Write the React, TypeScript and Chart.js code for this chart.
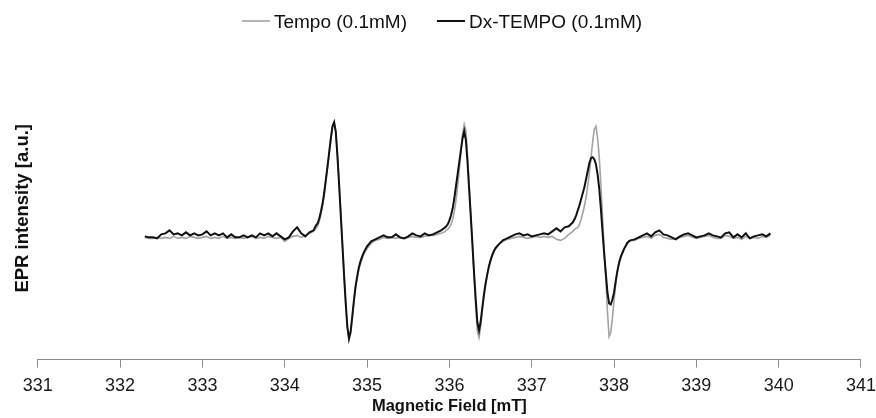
import { useEffect, useRef } from 'react';
import { Chart, registerables } from 'chart.js';

Chart.register(...registerables);

// Magnetic field sampling positions [mT]
const fieldMT = [
  332.30, 332.35, 332.40, 332.45, 332.50, 332.55, 332.60, 332.65, 332.70, 332.75,
  332.80, 332.85, 332.90, 332.95, 333.00, 333.05, 333.10, 333.15, 333.20, 333.25,
  333.30, 333.35, 333.40, 333.45, 333.50, 333.55, 333.60, 333.65, 333.70, 333.75,
  333.80, 333.85, 333.90, 333.95, 334.00, 334.05, 334.10, 334.15, 334.20, 334.25,
  334.30, 334.35,
  334.38, 334.40, 334.42, 334.44, 334.46, 334.48, 334.50, 334.52, 334.54, 334.56,
  334.58, 334.60, 334.62, 334.64, 334.66, 334.68, 334.70, 334.72, 334.74, 334.76,
  334.78, 334.80, 334.82, 334.84, 334.86, 334.88, 334.90, 334.92, 334.94, 334.96,
  335.00, 335.05, 335.10, 335.15, 335.20, 335.25, 335.30, 335.35, 335.40, 335.45,
  335.50, 335.55, 335.60, 335.65, 335.70, 335.75, 335.80, 335.85, 335.90, 335.95,
  335.96, 335.98, 336.00, 336.02, 336.04, 336.06, 336.08, 336.10, 336.12, 336.14,
  336.16, 336.18, 336.20, 336.22, 336.24, 336.26, 336.28, 336.30, 336.32, 336.34,
  336.36, 336.38, 336.40, 336.42, 336.44, 336.46, 336.48, 336.50, 336.52, 336.54,
  336.56,
  336.60, 336.65, 336.70, 336.75, 336.80, 336.85, 336.90, 336.95, 337.00, 337.05,
  337.10, 337.15, 337.20, 337.25, 337.30, 337.35, 337.40, 337.45, 337.50,
  337.52, 337.54, 337.56, 337.58, 337.60, 337.62, 337.64, 337.66, 337.68, 337.70,
  337.72, 337.74, 337.76, 337.78, 337.80, 337.82, 337.84, 337.86, 337.88, 337.90,
  337.92, 337.94, 337.96, 337.98, 338.00, 338.02, 338.04, 338.06, 338.08, 338.10,
  338.12, 338.14, 338.16, 338.18, 338.20,
  338.25, 338.30, 338.35, 338.40, 338.45, 338.50, 338.55, 338.60, 338.65, 338.70,
  338.75, 338.80, 338.85, 338.90, 338.95, 339.00, 339.05, 339.10, 339.15, 339.20,
  339.25, 339.30, 339.35, 339.40, 339.45, 339.50, 339.55, 339.60, 339.65, 339.70,
  339.75, 339.80, 339.85, 339.90,
];

// Tempo (0.1mM) – grey trace [a.u.]
const tempo = [
  -0.01, -0.02, -0.02, -0.01, -0.02, -0.01, -0.02, 0.00, -0.02, -0.01,
  -0.02, 0.00, -0.01, -0.02, -0.01, 0.00, -0.02, -0.01, -0.02, 0.00,
  -0.02, -0.01, -0.02, -0.01, -0.02, -0.01, 0.00, -0.02, -0.01, -0.02,
  0.00, -0.01, -0.02, -0.01, -0.05, -0.02, 0.00, 0.01, -0.01, 0.01,
  0.03, 0.05,
  0.08, 0.10, 0.15, 0.22, 0.31, 0.42, 0.55, 0.69, 0.83, 0.97,
  1.09, 1.13, 1.05, 0.82, 0.54, 0.24, -0.06, -0.37, -0.66, -0.90,
  -1.03, -0.97, -0.82, -0.66, -0.52, -0.42, -0.33, -0.27, -0.22, -0.18,
  -0.12, -0.07, -0.04, -0.03, -0.01, -0.02, -0.01, -0.02, -0.01, -0.02,
  -0.01, 0.00, -0.01, -0.01, 0.00, 0.01, 0.01, 0.02, 0.03, 0.05,
  0.06, 0.07, 0.09, 0.12, 0.17, 0.25, 0.36, 0.50, 0.66, 0.84,
  1.02, 1.12, 1.06, 0.82, 0.52, 0.22, -0.09, -0.40, -0.70, -0.95,
  -1.01, -0.90, -0.74, -0.60, -0.48, -0.38, -0.30, -0.23, -0.18, -0.14,
  -0.11,
  -0.08, -0.05, -0.03, -0.02, -0.01, 0.00, -0.01, -0.02, -0.01, 0.00,
  -0.01, 0.00, -0.01, 0.00, -0.03, -0.04, -0.02, 0.02, 0.05,
  0.07, 0.08, 0.09, 0.12, 0.17, 0.23, 0.30, 0.39, 0.50, 0.63,
  0.78, 0.94, 1.07, 1.10, 0.98, 0.80, 0.52, 0.20, -0.12, -0.42,
  -0.75, -1.00, -0.96, -0.82, -0.64, -0.48, -0.35, -0.26, -0.20, -0.16,
  -0.12, -0.09, -0.06, -0.05, -0.04,
  -0.04, -0.02, -0.01, 0.00, -0.02, 0.01, 0.02, -0.01, -0.02, -0.03,
  -0.02, -0.01, 0.00, 0.01, -0.01, -0.02, -0.01, 0.00, 0.01, -0.01,
  -0.02, -0.02, 0.01, 0.00, -0.02, -0.01, -0.03, 0.00, -0.02, -0.01,
  -0.02, 0.00, -0.01, 0.01,
];

// Dx-TEMPO (0.1mM) – black trace [a.u.]
const dxTempo = [
  0.00, -0.01, -0.01, -0.02, 0.02, 0.03, 0.06, 0.02, 0.03, 0.01,
  0.04, 0.01, 0.03, 0.01, 0.02, 0.05, 0.01, 0.03, 0.01, 0.03,
  -0.01, 0.02, -0.01, -0.01, 0.01, -0.01, 0.01, -0.01, 0.03, 0.01,
  0.03, 0.00, 0.03, 0.00, -0.03, -0.01, 0.05, 0.09, 0.03, 0.00,
  0.04, 0.06,
  0.11, 0.13, 0.18, 0.25, 0.33, 0.44, 0.57, 0.70, 0.84, 0.98,
  1.10, 1.14, 1.04, 0.80, 0.52, 0.22, -0.08, -0.38, -0.66, -0.90,
  -1.02, -0.95, -0.80, -0.64, -0.50, -0.40, -0.31, -0.25, -0.20, -0.16,
  -0.10, -0.05, -0.03, -0.01, 0.01, -0.01, -0.01, 0.02, -0.01, -0.02,
  0.00, 0.03, 0.01, 0.00, 0.03, 0.01, 0.02, 0.04, 0.06, 0.09,
  0.10, 0.12, 0.16, 0.21, 0.28, 0.38, 0.50, 0.62, 0.74, 0.86,
  0.98, 1.05, 0.96, 0.74, 0.47, 0.20, -0.08, -0.37, -0.63, -0.86,
  -0.94, -0.85, -0.71, -0.58, -0.47, -0.38, -0.30, -0.24, -0.19, -0.15,
  -0.12,
  -0.08, -0.04, -0.02, 0.00, 0.02, 0.03, 0.01, 0.02, 0.00, 0.01,
  0.02, 0.03, 0.02, 0.05, 0.08, 0.05, 0.09, 0.10, 0.14,
  0.17, 0.21, 0.26, 0.31, 0.37, 0.43, 0.49, 0.57, 0.65, 0.73,
  0.78, 0.79, 0.77, 0.72, 0.62, 0.48, 0.28, 0.05, -0.17, -0.37,
  -0.56, -0.67, -0.68, -0.63, -0.56, -0.45, -0.35, -0.27, -0.21, -0.17,
  -0.13, -0.10, -0.07, -0.05, -0.04,
  -0.03, -0.01, 0.01, 0.03, 0.00, 0.04, 0.06, 0.02, 0.01, -0.01,
  -0.03, 0.00, 0.02, 0.03, 0.01, -0.01, 0.00, 0.01, 0.03, 0.01,
  0.00, -0.01, 0.03, 0.04, -0.01, 0.02, -0.01, 0.03, -0.02, 0.00,
  0.01, 0.02, 0.00, 0.03,
];

const seriesLabels = ['Tempo (0.1mM)', 'Dx-TEMPO (0.1mM)'];
const seriesColors = ['#a3a3a3', '#111111'];
const xAxisMin = 331;
const xAxisMax = 341;
const xAxisStep = 1;
const yAxisMin = -1.23;
const yAxisMax = 1.79;
const xTitle = 'Magnetic Field [mT]';
const yTitle = 'EPR intensity [a.u.]';

const FONT = '"Liberation Sans", Arial, Helvetica, sans-serif';

const lineLegend = {
  id: 'lineLegend',
  afterDraw(chart: any) {
    const ctx = chart.ctx as CanvasRenderingContext2D;
    const lineLen = 28;
    const textGap = 4;
    const itemGap = 30;
    const yLine = 21;
    const yText = 23;
    ctx.save();
    ctx.font = `19px ${FONT}`;
    ctx.textBaseline = 'middle';
    ctx.textAlign = 'left';
    const items = chart.data.datasets.map((ds: any) => ({
      text: ds.label as string,
      color: ds.borderColor as string,
      width: ds.borderWidth as number,
    }));
    const widths = items.map((it: any) => lineLen + textGap + ctx.measureText(it.text).width);
    const total = widths.reduce((a: number, b: number) => a + b, 0) + itemGap * (items.length - 1);
    let x = chart.width / 2 + 4 - total / 2;
    items.forEach((it: any, i: number) => {
      ctx.strokeStyle = it.color;
      ctx.lineWidth = it.width;
      ctx.beginPath();
      ctx.moveTo(x, yLine);
      ctx.lineTo(x + lineLen, yLine);
      ctx.stroke();
      ctx.fillStyle = '#111111';
      ctx.fillText(it.text, x + lineLen + textGap, yText);
      x += widths[i] + itemGap;
    });
    ctx.restore();
  },
};

export default function App() {
  const canvasRef = useRef<HTMLCanvasElement | null>(null);

  useEffect(() => {
    const canvas = canvasRef.current;
    if (!canvas) return;
    const toPoints = (ys: number[]) => fieldMT.map((x, i) => ({ x, y: ys[i] }));
    const chart = new Chart(canvas, {
      type: 'line',
      data: {
        datasets: [
          {
            label: seriesLabels[0],
            data: toPoints(tempo),
            borderColor: seriesColors[0],
            backgroundColor: seriesColors[0],
            borderWidth: 1.6,
            pointRadius: 0,
            tension: 0,
            order: 2,
          },
          {
            label: seriesLabels[1],
            data: toPoints(dxTempo),
            borderColor: seriesColors[1],
            backgroundColor: seriesColors[1],
            borderWidth: 2,
            pointRadius: 0,
            tension: 0,
            order: 1,
          },
        ],
      },
      plugins: [lineLegend],
      options: {
        responsive: false,
        animation: false,
        devicePixelRatio: 1,
        layout: { padding: { top: 57, left: 8.6, right: 15, bottom: -2.4 } },
        plugins: {
          legend: { display: false },
          tooltip: { enabled: false },
        },
        scales: {
          x: {
            type: 'linear',
            position: 'bottom',
            min: xAxisMin,
            max: xAxisMax,
            ticks: {
              stepSize: xAxisStep,
              color: '#1a1a1a',
              padding: 0,
              maxRotation: 0,
              font: { family: FONT, size: 18, lineHeight: 2.0 },
            },
            grid: {
              display: true,
              drawOnChartArea: false,
              drawTicks: true,
              tickLength: 8,
              color: '#8c8c8c',
            },
            border: { display: true, color: '#8c8c8c', width: 1 },
            title: {
              display: true,
              text: xTitle,
              color: '#111111',
              padding: { top: -7, bottom: 4 },
              font: { family: FONT, size: 16.5, weight: 'bold' },
            },
          },
          y: {
            type: 'linear',
            min: yAxisMin,
            max: yAxisMax,
            ticks: { display: false },
            grid: { display: false, drawTicks: false, tickLength: 0 },
            border: { display: false },
            title: {
              display: true,
              text: yTitle,
              color: '#111111',
              padding: { top: 3, bottom: 4 },
              font: { family: FONT, size: 18.5, weight: 'bold' },
            },
          },
        },
      },
    });
    return () => chart.destroy();
  }, []);

  return (
    <div style={{ position: 'absolute', left: 0, top: 0, width: 876, height: 418, background: '#ffffff' }}>
      <canvas ref={canvasRef} width={876} height={418} style={{ display: 'block' }} />
    </div>
  );
}
